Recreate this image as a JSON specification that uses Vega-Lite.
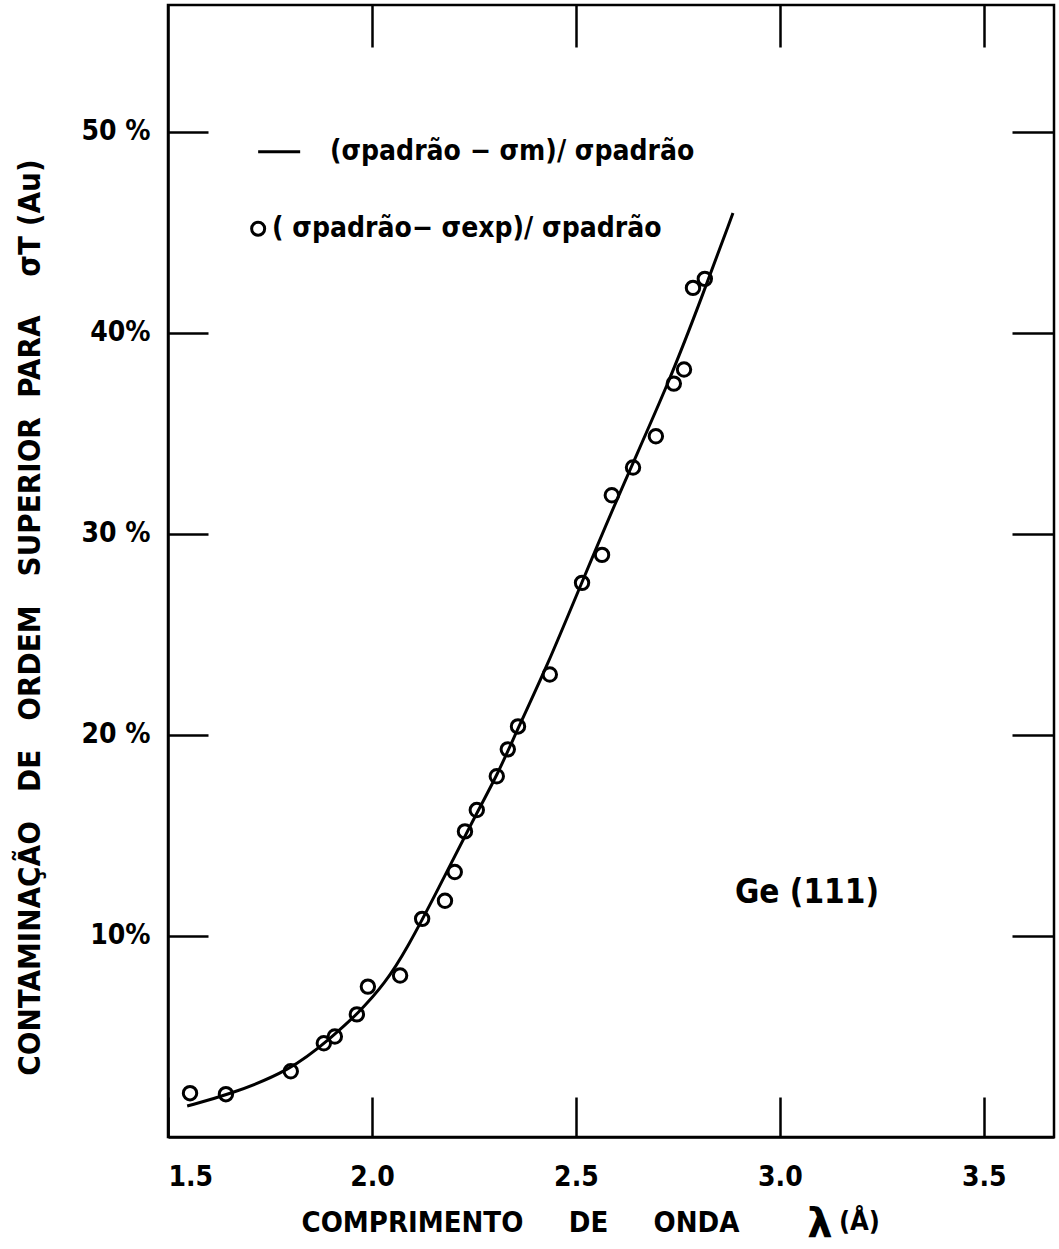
{
  "$schema": "https://vega.github.io/schema/vega-lite/v6.json",
  "autosize": {"type": "none"},
  "width": 886,
  "height": 1132,
  "padding": {"left": 168, "top": 5, "right": 5, "bottom": 112},
  "background": "white",
  "config": {
    "view": {"stroke": "black", "strokeWidth": 2.5},
    "font": "DejaVu Sans Condensed",
    "axis": {
      "domainColor": "black", "domainWidth": 2.5,
      "tickColor": "black", "tickWidth": 2.5,
      "labelColor": "black", "labelFont": "DejaVu Sans Condensed", "labelFontWeight": "bold", "labelFontSize": 28,
      "titleColor": "black", "titleFont": "DejaVu Sans Condensed", "titleFontWeight": "bold",
      "grid": false
    }
  },
  "datasets": {
    "curva": [
      {"lambda": 1.547, "contaminacao": 1.54},
      {"lambda": 1.645, "contaminacao": 2.08},
      {"lambda": 1.799, "contaminacao": 3.27},
      {"lambda": 1.904, "contaminacao": 5.01},
      {"lambda": 1.966, "contaminacao": 6.15},
      {"lambda": 2.032, "contaminacao": 7.63},
      {"lambda": 2.086, "contaminacao": 9.37},
      {"lambda": 2.159, "contaminacao": 12.19},
      {"lambda": 2.255, "contaminacao": 16.06},
      {"lambda": 2.306, "contaminacao": 17.94},
      {"lambda": 2.360, "contaminacao": 20.42},
      {"lambda": 2.429, "contaminacao": 23.4},
      {"lambda": 2.510, "contaminacao": 27.36},
      {"lambda": 2.608, "contaminacao": 32.1},
      {"lambda": 2.730, "contaminacao": 37.6},
      {"lambda": 2.811, "contaminacao": 41.9},
      {"lambda": 2.885, "contaminacao": 45.95}
    ],
    "medidas": [
      {"lambda": 1.554, "contaminacao": 2.18},
      {"lambda": 1.642, "contaminacao": 2.13},
      {"lambda": 1.801, "contaminacao": 3.27},
      {"lambda": 1.882, "contaminacao": 4.66},
      {"lambda": 1.909, "contaminacao": 5.0},
      {"lambda": 1.963, "contaminacao": 6.1},
      {"lambda": 1.990, "contaminacao": 7.48},
      {"lambda": 2.069, "contaminacao": 8.03},
      {"lambda": 2.123, "contaminacao": 10.85},
      {"lambda": 2.179, "contaminacao": 11.75},
      {"lambda": 2.203, "contaminacao": 13.18},
      {"lambda": 2.228, "contaminacao": 15.2},
      {"lambda": 2.257, "contaminacao": 16.26},
      {"lambda": 2.306, "contaminacao": 17.94},
      {"lambda": 2.333, "contaminacao": 19.28},
      {"lambda": 2.358, "contaminacao": 20.42},
      {"lambda": 2.436, "contaminacao": 23.0},
      {"lambda": 2.515, "contaminacao": 27.56},
      {"lambda": 2.564, "contaminacao": 28.95},
      {"lambda": 2.588, "contaminacao": 31.92},
      {"lambda": 2.640, "contaminacao": 33.3},
      {"lambda": 2.696, "contaminacao": 34.85},
      {"lambda": 2.740, "contaminacao": 37.47},
      {"lambda": 2.765, "contaminacao": 38.17},
      {"lambda": 2.787, "contaminacao": 42.23},
      {"lambda": 2.816, "contaminacao": 42.68}
    ]
  },
  "layer": [
    {
      "data": {"name": "curva"},
      "mark": {"type": "line", "color": "black", "strokeWidth": 3, "interpolate": "basis"},
      "encoding": {
        "x": {
          "field": "lambda", "type": "quantitative",
          "scale": {"domain": [1.5, 3.672], "nice": false, "zero": false},
          "axis": {
            "orient": "bottom", "values": [1.5, 2.0, 2.5, 3.0, 3.5], "format": ".1f",
            "tickSize": -40, "labelPadding": 66, "labelBaseline": "top",
            "title": "COMPRIMENTO\u00a0\u00a0\u00a0\u00a0 DE\u00a0\u00a0\u00a0\u00a0 ONDA",
            "titleFontSize": 29, "titleX": 352, "titleY": 85, "titleBaseline": "middle", "titleAlign": "center"
          }
        },
        "y": {
          "field": "contaminacao", "type": "quantitative",
          "scale": {"domain": [0, 56.3], "nice": false, "zero": false},
          "axis": {
            "orient": "left", "values": [10, 20, 30, 40, 50],
            "labelExpr": "(datum.value == 10 || datum.value == 40) ? datum.value + '%' : datum.value + ' %'",
            "tickSize": -40, "labelPadding": 58,
            "title": "CONTAMINAÇÃO\u00a0\u00a0 DE\u00a0\u00a0 ORDEM\u00a0\u00a0 SUPERIOR\u00a0 PARA\u00a0\u00a0\u00a0 σT (Au)",
            "titleFontSize": 31, "titleAngle": -90, "titleX": -138, "titleY": 612,
            "titleAlign": "center", "titleBaseline": "middle"
          }
        }
      }
    },
    {
      "data": {"name": "medidas"},
      "mark": {"type": "point", "shape": "circle", "filled": false, "color": "black", "strokeWidth": 3, "size": 180, "opacity": 1},
      "encoding": {
        "x": {
          "field": "lambda", "type": "quantitative",
          "axis": {"orient": "top", "values": [2.0, 2.5, 3.0, 3.5], "labels": false, "domain": false, "tickSize": -42, "title": null}
        },
        "y": {
          "field": "contaminacao", "type": "quantitative",
          "axis": {"orient": "right", "values": [10, 20, 30, 40, 50], "labels": false, "domain": false, "tickSize": -42, "title": null}
        }
      }
    },
    {
      "data": {"values": [{}]},
      "mark": {"type": "rule", "color": "black", "strokeWidth": 3},
      "encoding": {
        "x": {"datum": 1.721, "type": "quantitative", "axis": null},
        "x2": {"datum": 1.824},
        "y": {"datum": 49.0, "type": "quantitative", "axis": null}
      }
    },
    {
      "data": {"values": [{}]},
      "mark": {"type": "point", "shape": "circle", "filled": false, "color": "black", "strokeWidth": 3, "size": 170, "opacity": 1},
      "encoding": {
        "x": {"datum": 1.721, "type": "quantitative", "axis": null},
        "y": {"datum": 45.17, "type": "quantitative", "axis": null}
      }
    },
    {
      "data": {"values": [{}]},
      "mark": {"type": "text", "align": "left", "baseline": "middle", "fontSize": 28, "fontWeight": "bold", "font": "DejaVu Sans Condensed", "color": "black"},
      "encoding": {
        "x": {"datum": 1.897, "type": "quantitative", "axis": null},
        "y": {"datum": 49.0, "type": "quantitative", "axis": null},
        "text": {"value": "(σpadrão − σm)/ σpadrão"}
      }
    },
    {
      "data": {"values": [{}]},
      "mark": {"type": "text", "align": "left", "baseline": "middle", "fontSize": 28, "fontWeight": "bold", "font": "DejaVu Sans Condensed", "color": "black"},
      "encoding": {
        "x": {"datum": 1.755, "type": "quantitative", "axis": null},
        "y": {"datum": 45.17, "type": "quantitative", "axis": null},
        "text": {"value": "( σpadrão− σexp)/ σpadrão"}
      }
    },
    {
      "data": {"values": [{}]},
      "mark": {"type": "text", "align": "left", "baseline": "middle", "fontSize": 33, "fontWeight": "bold", "font": "DejaVu Sans Condensed", "color": "black"},
      "encoding": {
        "x": {"datum": 2.89, "type": "quantitative", "axis": null},
        "y": {"datum": 12.14, "type": "quantitative", "axis": null},
        "text": {"value": "Ge (111)"}
      }
    },
    {
      "data": {"values": [{}]},
      "mark": {"type": "text", "align": "center", "baseline": "middle", "fontSize": 40, "fontWeight": "bold", "font": "DejaVu Sans", "color": "black", "clip": false},
      "encoding": {
        "x": {"datum": 3.098, "type": "quantitative", "axis": null},
        "y": {"datum": -4.4, "type": "quantitative", "axis": null},
        "text": {"value": "λ"}
      }
    },
    {
      "data": {"values": [{}]},
      "mark": {"type": "text", "align": "center", "baseline": "middle", "fontSize": 27, "fontWeight": "bold", "font": "DejaVu Sans Condensed", "color": "black", "clip": false},
      "encoding": {
        "x": {"datum": 3.195, "type": "quantitative", "axis": null},
        "y": {"datum": -4.25, "type": "quantitative", "axis": null},
        "text": {"value": "(Å)"}
      }
    }
  ]
}
